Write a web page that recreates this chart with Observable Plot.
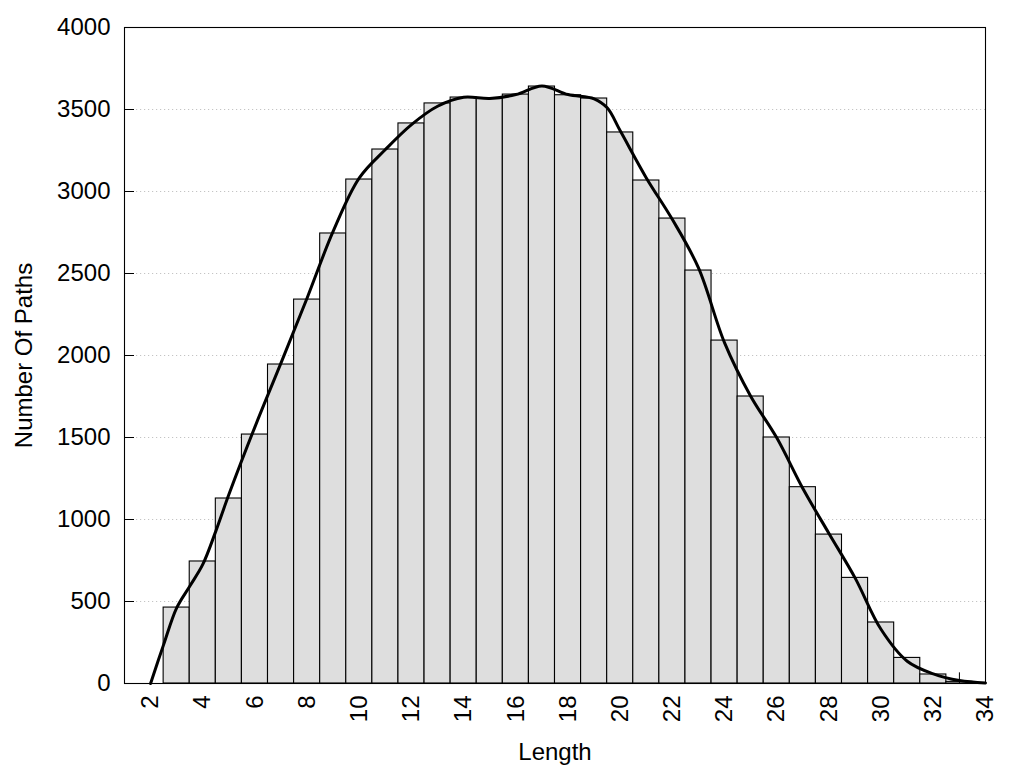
<!DOCTYPE html>
<html>
<head>
<meta charset="utf-8">
<script src="https://cdn.jsdelivr.net/npm/d3@7"></script>
<script src="https://cdn.jsdelivr.net/npm/@observablehq/plot@0.6"></script>
<style>
  html, body { margin: 0; padding: 0; background: #fff; }
  #chart svg { display: block; }
</style>
</head>
<body>
<div id="chart"></div>
<script>
// Histogram bars: path length -> number of paths
const lengths = [3,4,5,6,7,8,9,10,11,12,13,14,15,16,17,18,19,20,21,22,23,24,25,26,27,28,29,30,31,32,33];
const counts  = [463,744,1128,1518,1945,2341,2744,3073,3256,3415,3537,3573,3565,3591,3640,3587,3567,3360,3067,2835,2518,2091,1750,1500,1197,908,644,372,156,55,10];

// Smoothed density curve (scaled)
const curveX = [2,2.5,3,3.5,4,4.5,5,6,7,8,9,10,11,12,13,14,15,16,17,18,19,19.5,20,21,22,23,24,25,26,27,28,29,30,31,32,33,34];
const curveY = [0,237,461,593,726,929,1152,1565,1955,2351,2758,3083,3256,3408,3520,3575,3567,3591,3644,3591,3565,3510,3370,3083,2829,2534,2077,1752,1498,1189,915,644,329,136,59,18,3];

// Stray short mark near length 33
const strayX = [33];
const strayY = [65];

const xTicks = [2,4,6,8,10,12,14,16,18,20,22,24,26,28,30,32,34];
const yTicks = [0,500,1000,1500,2000,2500,3000,3500,4000];
const gridTicks = [500,1000,1500,2000,2500,3000,3500];

const bars = lengths.map((len, i) => ({len, count: counts[i]}));
const curve = curveX.map((x, i) => ({x, y: curveY[i]}));
const stray = strayX.map((x, i) => ({x, y: strayY[i]}));

const font = 24;

const chart = Plot.plot({
  width: 1024,
  height: 768,
  marginLeft: 124,
  marginRight: 39,
  marginTop: 27,
  marginBottom: 85,
  style: {fontFamily: "'Liberation Sans', Arial, sans-serif", fontSize: font + "px", background: "#fff", color: "#000"},
  x: {domain: [1, 34]},
  y: {domain: [0, 4000]},
  marks: [
    Plot.ruleY(gridTicks, {stroke: "#c4c4c4", strokeDasharray: "1.2,2.8", strokeWidth: 1}),
    Plot.rectY(bars, {x1: d => d.len - 0.5, x2: d => d.len + 0.5, y: "count", fill: "#dedede", stroke: "#000", strokeWidth: 1.1, insetLeft: 0, insetRight: 0}),
    Plot.ruleX(stray, {x: "x", y1: 0, y2: "y", stroke: "#000", strokeWidth: 1}),
    Plot.line(curve, {x: "x", y: "y", curve: "catmull-rom", stroke: "#000", strokeWidth: 3}),
    Plot.frame({stroke: "#000", strokeWidth: 1.1}),
    Plot.axisY(yTicks, {anchor: "left", tickSize: 10, dx: 10, text: null, label: null, stroke: "#000"}),
    Plot.axisY(yTicks, {anchor: "left", tickSize: 0, tickPadding: 14, tickFormat: d3.format("d"), fontSize: font, label: "Number Of Paths", labelAnchor: "center", labelOffset: 110, labelArrow: "none"}),
    Plot.axisX(xTicks, {anchor: "bottom", tickSize: 0, tickPadding: 12, tickRotate: -90, tickFormat: d3.format("d"), fontSize: font, label: "Length", labelAnchor: "center", labelOffset: 76, labelArrow: "none"})
  ]
});

document.getElementById("chart").appendChild(chart);
</script>
</body>
</html>
